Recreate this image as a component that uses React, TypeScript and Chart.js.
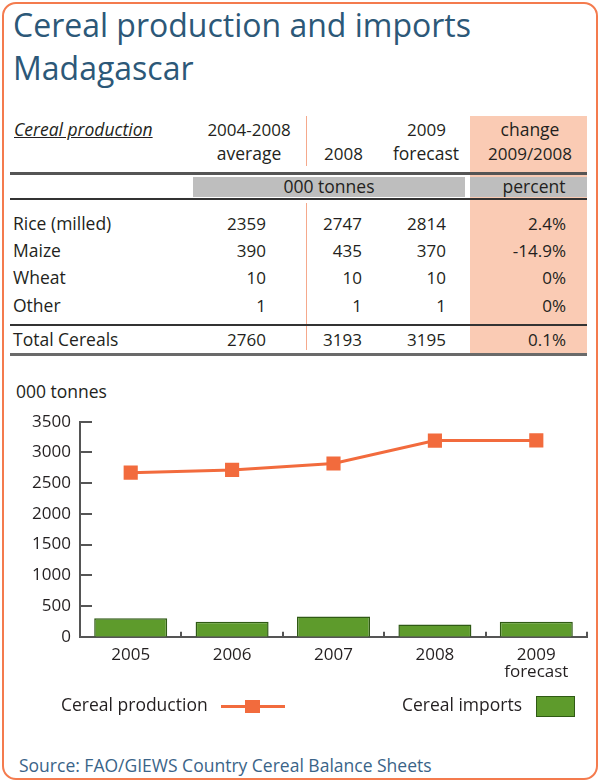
import React, { useEffect, useRef } from "react";
import { Chart, registerables } from "chart.js";

Chart.register(...registerables);

// ---------- data ----------
const categories: (string | string[])[] = ["2005", "2006", "2007", "2008", ["2009", "forecast"]];
const production = [2670, 2715, 2820, 3193, 3195];
const imports = [300, 245, 330, 200, 245];
const yMin = 0;
const yMax = 3500;
const yStep = 500;

const rowLabels = ["Rice (milled)", "Maize", "Wheat", "Other"];
const avg0408 = ["2359", "390", "10", "1"];
const val2008 = ["2747", "435", "10", "1"];
const val2009 = ["2814", "370", "10", "1"];
const changePct = ["2.4%", "-14.9%", "0%", "0%"];
const totalRow = ["Total Cereals", "2760", "3193", "3195", "0.1%"];

// ---------- styles ----------
const FONT = "'Open Sans', 'DejaVu Sans', sans-serif";
const ORANGE = "#F26B3D";
const GREEN = "#5E9B2C";
const GREEN_DARK = "#2F5A14";
const AXIS = "#555555";
const TEXT = "#231F20";
const WS = 17.5; // word text size

type TProps = {
  x: number;
  y: number;
  text: string;
  align?: "left" | "right" | "center";
  size?: number;
  color?: string;
  style?: React.CSSProperties;
};

function T({ x, y, text, align = "left", size = 17, color = TEXT, style }: TProps) {
  const w = 400;
  let left = x;
  if (align === "right") left = x - w;
  if (align === "center") left = x - w / 2;
  return (
    <div
      style={{
        position: "absolute",
        left,
        top: y - size * 0.56,
        width: w,
        textAlign: align,
        fontSize: size,
        lineHeight: `${size}px`,
        fontFamily: FONT,
        color,
        whiteSpace: "nowrap",
        ...style,
      }}
    >
      {text}
    </div>
  );
}

function Box({ x, y, w, h, bg }: { x: number; y: number; w: number; h: number; bg: string }) {
  return <div style={{ position: "absolute", left: x, top: y, width: w, height: h, background: bg }} />;
}

const innerTicks = {
  id: "innerTicks",
  afterDraw(chart: any) {
    const { ctx, chartArea, scales } = chart;
    const ys = scales.y;
    const xs = scales.x;
    ctx.save();
    ctx.strokeStyle = AXIS;
    ctx.lineWidth = 2;
    for (let v = yMin + yStep; v <= yMax; v += yStep) {
      const py = Math.round(ys.getPixelForValue(v));
      ctx.beginPath();
      ctx.moveTo(chartArea.left, py);
      ctx.lineTo(chartArea.left + 12, py);
      ctx.stroke();
    }
    const n = categories.length;
    for (let i = 0; i < n; i++) {
      const a = xs.getPixelForValue(i);
      const b = i < n - 1 ? xs.getPixelForValue(i + 1) : a + (a - xs.getPixelForValue(i - 1));
      const px = Math.round((a + b) / 2);
      ctx.beginPath();
      ctx.moveTo(px, chartArea.bottom);
      ctx.lineTo(px, chartArea.bottom - 5);
      ctx.stroke();
    }
    ctx.restore();
  },
};

function ChartCanvas() {
  const ref = useRef<HTMLCanvasElement | null>(null);
  useEffect(() => {
    if (!ref.current) return;
    const chart = new Chart(ref.current, {
      type: "bar",
      data: {
        labels: categories as any,
        datasets: [
          {
            type: "line",
            label: "Cereal production",
            data: production,
            borderColor: ORANGE,
            backgroundColor: ORANGE,
            borderWidth: 3,
            pointStyle: "rect",
            pointRadius: 10,
            pointBorderWidth: 0,
            order: 0,
          } as any,
          {
            type: "bar",
            label: "Cereal imports",
            data: imports,
            backgroundColor: GREEN,
            borderColor: GREEN_DARK,
            borderWidth: 1.5,
            barPercentage: 0.72,
            categoryPercentage: 1,
            order: 1,
          } as any,
        ],
      },
      options: {
        animation: false,
        responsive: false,
        maintainAspectRatio: false,
        layout: { padding: { left: 0, right: 13, top: 21.7, bottom: 0 } },
        plugins: { legend: { display: false }, tooltip: { enabled: false } },
        scales: {
          x: {
            grid: { display: false, drawTicks: false },
            border: { display: true, color: AXIS, width: 2 },
            ticks: {
              color: TEXT,
              font: { family: FONT, size: 17, lineHeight: 1 },
              padding: 10,
              maxRotation: 0,
              autoSkip: false,
            },
            afterFit: (s: any) => {
              s.height = 63.3;
              s.paddingLeft = 0;
              s.paddingRight = 0;
            },
          },
          y: {
            min: yMin,
            max: yMax,
            grid: { display: false, drawTicks: false },
            border: { display: true, color: AXIS, width: 2 },
            ticks: {
              stepSize: yStep,
              color: TEXT,
              padding: 9,
              font: { family: FONT, size: 17 },
              callback: (v: any) => String(v),
            },
            afterFit: (s: any) => {
              s.width = 80;
              s.paddingTop = 0;
              s.paddingBottom = 0;
            },
          },
        },
      },
      plugins: [innerTicks],
    });
    return () => chart.destroy();
  }, []);
  return (
    <canvas
      ref={ref}
      width={600}
      height={300}
      style={{ position: "absolute", left: 0, top: 400, width: 600, height: 300 }}
    />
  );
}

export default function App() {
  const rowY = [225, 252, 279, 306.5];
  const colR = [266, 362, 446, 566];
  return (
    <div
      style={{
        position: "absolute",
        left: 0,
        top: 0,
        width: 600,
        height: 781,
        background: "#ffffff",
        overflow: "hidden",
        fontFamily: FONT,
      }}
    >
      {/* frame */}
      <div
        style={{
          position: "absolute",
          left: 2,
          top: 2,
          width: 592,
          height: 774,
          border: "2px solid #F47B4E",
          borderRadius: 14,
        }}
      />
      {/* title */}
      <T x={13} y={27} text="Cereal production and imports" size={32} color="#2C5878" />
      <T x={13} y={70} text="Madagascar" size={32} color="#2C5878" />

      {/* table backgrounds */}
      <Box x={470} y={116} w={117} h={238} bg="#FACBB4" />
      <Box x={193} y={177} w={272} h={20} bg="#BEBEBE" />
      <Box x={470} y={177} w={117} h={20} bg="#BEBEBE" />
      <Box x={306} y={116} w={1} h={50} bg="#F5A98C" />
      <Box x={306} y={203} w={1} h={147} bg="#F5A98C" />
      <Box x={10} y={171.5} w={577} h={3} bg="#555555" />
      <Box x={10} y={198} w={577} h={2} bg="#333333" />
      <Box x={10} y={324} w={577} h={2} bg="#333333" />
      <Box x={10} y={352.5} w={577} h={3} bg="#6A6A6A" />

      {/* table header */}
      <T x={14} y={131} size={WS} text="Cereal production" style={{ fontStyle: "italic", textDecoration: "underline" }} />
      <T x={249} y={131} align="center" text="2004-2008" />
      <T x={249} y={155} align="center" size={WS} text="average" />
      <T x={363} y={155} align="right" text="2008" />
      <T x={446} y={131} align="right" text="2009" />
      <T x={459} y={155} align="right" size={WS} text="forecast" />
      <T x={530} y={131} align="center" size={WS} text="change" />
      <T x={530} y={155} align="center" text="2009/2008" />
      <T x={329} y={187.5} align="center" size={WS} text="000 tonnes" />
      <T x={534} y={187.5} align="center" size={WS} text="percent" />

      {/* table rows */}
      {rowLabels.map((lab, i) => (
        <React.Fragment key={lab}>
          <T x={13} y={rowY[i]} size={WS} text={lab} />
          <T x={colR[0]} y={rowY[i]} align="right" text={avg0408[i]} />
          <T x={colR[1]} y={rowY[i]} align="right" text={val2008[i]} />
          <T x={colR[2]} y={rowY[i]} align="right" text={val2009[i]} />
          <T x={colR[3]} y={rowY[i]} align="right" text={changePct[i]} />
        </React.Fragment>
      ))}
      <T x={13} y={341} size={WS} text={totalRow[0]} />
      <T x={colR[0]} y={341} align="right" text={totalRow[1]} />
      <T x={colR[1]} y={341} align="right" text={totalRow[2]} />
      <T x={colR[2]} y={341} align="right" text={totalRow[3]} />
      <T x={colR[3]} y={341} align="right" text={totalRow[4]} />

      {/* chart */}
      <T x={16} y={393} size={WS} text="000 tonnes" />
      <ChartCanvas />

      {/* legend */}
      <T x={61} y={706} size={WS} text="Cereal production" />
      <Box x={221} y={704.5} w={64} h={3} bg={ORANGE} />
      <Box x={245} y={699.5} w={15} h={13} bg={ORANGE} />
      <T x={522} y={706} align="right" size={WS} text="Cereal imports" />
      <div
        style={{
          position: "absolute",
          left: 536,
          top: 696,
          width: 37,
          height: 19,
          background: GREEN,
          border: `1px solid ${GREEN_DARK}`,
        }}
      />

      {/* source */}
      <T x={19} y={767} size={WS} text="Source: FAO/GIEWS Country Cereal Balance Sheets" color="#3A6488" />
    </div>
  );
}
